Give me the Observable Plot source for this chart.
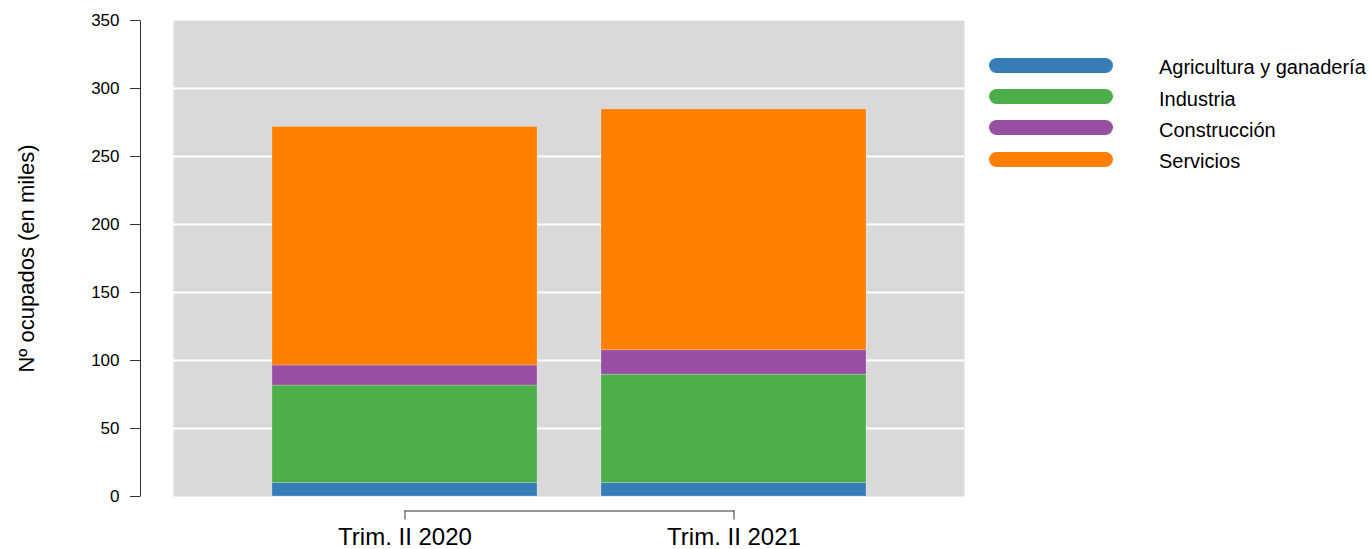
<!DOCTYPE html>
<html>
<head>
<meta charset="utf-8">
<script src="https://cdn.jsdelivr.net/npm/d3@7"></script>
<script src="https://cdn.jsdelivr.net/npm/@observablehq/plot@0.6"></script>
<style>
  html, body { margin: 0; padding: 0; background: #fff; }
  body { font-family: "Liberation Sans", Arial, sans-serif; width: 1370px; height: 549px; overflow: hidden; position: relative; }
  #legend { position: absolute; left: 989px; top: 49.5px; }
  .item { display: flex; align-items: center; height: 31.4px; }
  .swatch { width: 124px; height: 15px; border-radius: 8px; margin-right: 46px; }
  .lab { font-size: 20px; color: #000; white-space: nowrap; position: relative; top: 2.5px; }
</style>
</head>
<body>
<div id="chart"></div>
<div id="legend"></div>
<script>
const periods = ["Trim. II 2020", "Trim. II 2021"];
const sectors = ["Agricultura y ganadería", "Industria", "Construcción", "Servicios"];
const colors = ["#377eb8", "#4daf4a", "#984ea3", "#ff7f00"];
const agricultura = [10.0, 10.0];
const industria = [71.6, 79.6];
const construccion = [14.7, 17.9];
const servicios = [175.4, 177.1];
const yTicks = [0, 50, 100, 150, 200, 250, 300, 350];
const gridLines = [50, 100, 150, 200, 250, 300];
const yLabel = "Nº ocupados (en miles)";

const series = [agricultura, industria, construccion, servicios];
const rows = [];
periods.forEach((p, i) => sectors.forEach((s, j) => rows.push({period: p, sector: s, value: series[j][i]})));

const W = 1370, H = 549, mL = 173, mR = 406, mT = 20, mB = 53;
const axisOffset = 33;   // y axis sits left of the grey panel
const frameW = W - mL - mR;

const chart = Plot.plot({
  width: W,
  height: H,
  marginLeft: mL,
  marginRight: mR,
  marginTop: mT,
  marginBottom: mB,
  style: {fontFamily: "Liberation Sans, Arial, sans-serif", background: "white"},
  x: {domain: periods, paddingInner: 0.196, paddingOuter: 0.298, axis: null},
  y: {domain: [0, 350], axis: null},
  color: {domain: sectors, range: colors},
  marks: [
    Plot.frame({fill: "#d9d9d9", stroke: null}),
    Plot.ruleY(gridLines, {stroke: "white", strokeWidth: 2}),
    Plot.barY(rows, {x: "period", y: "value", fill: "sector", order: sectors, stroke: "#ffffff", strokeOpacity: 0.35, strokeWidth: 0.6}),
    // y axis line (detached, R style)
    Plot.frame({fill: "#333", stroke: null, insetLeft: -axisOffset - 0.5, insetRight: frameW + axisOffset - 0.5}),
    Plot.axisY({ticks: yTicks, tickSize: 10, tickPadding: 11, fontSize: 17, dx: -axisOffset, label: null, stroke: "#333", color: "#000"}),
    Plot.text([yLabel], {frameAnchor: "left", textAnchor: "middle", rotate: -90, dx: -147, fontSize: 22, fill: "#000"}),
    Plot.lineY(periods, {x: d => d, y: () => 0, dy: 14.5, stroke: "#333", strokeWidth: 1}),
    Plot.axisX({tickSize: 9, tickPadding: 7.5, fontSize: 24, dy: 14.5, label: null, stroke: "#333", color: "#000"})
  ]
});
document.getElementById("chart").appendChild(chart);

const legend = document.getElementById("legend");
sectors.forEach((s, i) => {
  const item = document.createElement("div");
  item.className = "item";
  const sw = document.createElement("div");
  sw.className = "swatch";
  sw.style.background = colors[i];
  const lab = document.createElement("span");
  lab.className = "lab";
  lab.textContent = s;
  item.appendChild(sw);
  item.appendChild(lab);
  legend.appendChild(item);
});
</script>
</body>
</html>
